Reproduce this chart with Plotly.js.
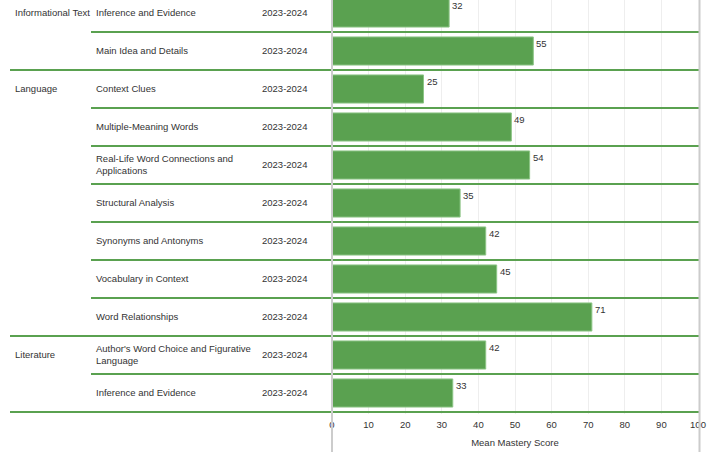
<!DOCTYPE html>
<html>
<head>
<meta charset="utf-8">
<script src="https://cdn.plot.ly/plotly-3.0.1.min.js"></script>
<style>html,body{margin:0;padding:0;background:#fff;}#chart{width:709px;height:452px;}</style>
</head>
<body>
<div id="chart"></div>
<script>
// ---- data ----
var domains = ["Informational Text","Informational Text","Language","Language","Language","Language","Language","Language","Language","Literature","Literature"];
var skills = ["Inference and Evidence","Main Idea and Details","Context Clues","Multiple-Meaning Words","Real-Life Word Connections and<br>Applications","Structural Analysis","Synonyms and Antonyms","Vocabulary in Context","Word Relationships","Author's Word Choice and Figurative<br>Language","Inference and Evidence"];
var years = ["2023-2024","2023-2024","2023-2024","2023-2024","2023-2024","2023-2024","2023-2024","2023-2024","2023-2024","2023-2024","2023-2024"];
var scores = [32,55,25,49,54,35,42,45,71,42,33];
var xTicks = [0,10,20,30,40,50,60,70,80,90,100];

// ---- layout helpers ----
var W = 709, H = 452;
var L = 332, R = 698, T = 0, B = 414;
var pw = R - L;
function px2paper(px){ return (px - L) / pw; }
var green = '#5aa150';
var txtColor = '#333333';
var fontFam = '"Liberation Sans", Arial, sans-serif';
var fs = 9.5;

var idx = scores.map(function(_, i){ return i; });

var annotations = [];
var shapes = [];
for (var i = 0; i < scores.length; i++) {
  if (i === 0 || domains[i] !== domains[i-1]) {
    annotations.push({xref:'paper', yref:'y', x:px2paper(13), y:i, yshift:1, xanchor:'left', yanchor:'middle',
      text:domains[i], showarrow:false, font:{family:fontFam, size:fs, color:txtColor}});
  }
  annotations.push({xref:'paper', yref:'y', x:px2paper(94), y:i, yshift:1, xanchor:'left', yanchor:'middle', align:'left',
    text:skills[i], showarrow:false, font:{family:fontFam, size:fs, color:txtColor}});
  annotations.push({xref:'paper', yref:'y', x:px2paper(260), y:i, yshift:1, xanchor:'left', yanchor:'middle',
    text:years[i], showarrow:false, font:{family:fontFam, size:fs, color:txtColor}});
  annotations.push({xref:'x', yref:'y', x:scores[i], y:i - 0.19, xanchor:'left', yanchor:'middle', xshift:1,
    text:String(scores[i]), showarrow:false, font:{family:fontFam, size:fs, color:txtColor}});
  var last = (i === scores.length - 1) || domains[i+1] !== domains[i];
  shapes.push({type:'line', xref:'paper', yref:'y', x0:px2paper(last ? 10 : 91), x1:px2paper(700),
    y0:i + 0.5, y1:i + 0.5, line:{color:green, width:2}, layer:'above'});
}
// gray frame lines
shapes.push({type:'line', xref:'paper', yref:'paper', x0:0, x1:0, y0:-0.12, y1:1.05, line:{color:'#cccccc', width:2}, layer:'above'});
shapes.push({type:'line', xref:'paper', yref:'paper', x0:px2paper(699.5), x1:px2paper(699.5), y0:-0.12, y1:1.05, line:{color:'#cccccc', width:2}, layer:'above'});

var trace = {
  type:'bar', orientation:'h', x:scores, y:idx, width:0.74,
  marker:{color:green, line:{color:'#8cc585', width:1}},
  hoverinfo:'none', showlegend:false
};

var layout = {
  width:W, height:H,
  margin:{l:L, r:W-R, t:T, b:H-B, pad:0},
  paper_bgcolor:'#ffffff', plot_bgcolor:'#ffffff',
  xaxis:{range:[0,100], tickvals:xTicks, ticktext:xTicks.map(String), showgrid:true, gridcolor:'#eeeeee', gridwidth:1,
    zeroline:false, showline:false, ticks:'', ticklabelstandoff:3, tickfont:{family:fontFam, size:fs, color:txtColor},
    title:{text:'Mean Mastery Score', font:{family:fontFam, size:fs, color:txtColor}, standoff:10}, fixedrange:true},
  yaxis:{range:[(B - T - 13)/38, -13/38], showticklabels:false, showgrid:false, zeroline:false, showline:false, ticks:'', fixedrange:true},
  annotations:annotations, shapes:shapes,
  font:{family:fontFam, size:fs, color:txtColor}
};

Plotly.newPlot('chart', [trace], layout, {displayModeBar:false, staticPlot:true});
</script>
</body>
</html>
